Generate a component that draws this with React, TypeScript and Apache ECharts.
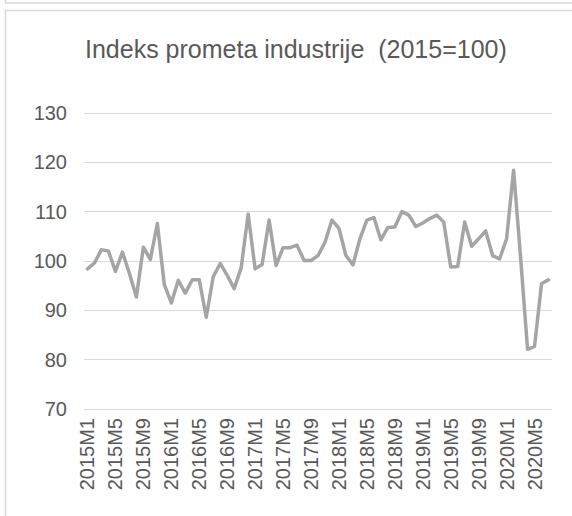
import React, { useEffect, useRef } from "react";
import * as echarts from "echarts";

const titleText = "Indeks prometa industrije  (2015=100)";

const years = [2015, 2016, 2017, 2018, 2019, 2020];
const lastMonth2020 = 7;

const categories: string[] = [];
years.forEach((y) => {
  const last = y === 2020 ? lastMonth2020 : 12;
  for (let m = 1; m <= last; m++) categories.push(`${y}M${m}`);
});

const values = [
  // 2015
  98.4, 99.6, 102.3, 102.0, 97.9, 101.8, 97.5, 92.7, 102.8, 100.3, 107.6, 95.2,
  // 2016
  91.5, 96.1, 93.5, 96.2, 96.2, 88.6, 96.8, 99.5, 97.1, 94.4, 98.6, 109.5,
  // 2017
  98.4, 99.3, 108.3, 99.1, 102.7, 102.7, 103.2, 100.1, 100.1, 101.1, 103.8, 108.3,
  // 2018
  106.6, 101.1, 99.2, 104.5, 108.3, 108.8, 104.3, 106.8, 106.9, 110.0, 109.3, 107.0,
  // 2019
  107.7, 108.6, 109.3, 107.9, 98.8, 98.9, 107.9, 103.0, 104.5, 106.1, 101.1, 100.4,
  // 2020
  104.5, 118.4, 100.8, 82.1, 82.7, 95.4, 96.2,
];

const yMin = 70;
const yMax = 130;
const yStep = 10;

export default function App() {
  const ref = useRef<HTMLDivElement>(null);
  useEffect(() => {
    if (!ref.current) return;
    const chart = echarts.init(ref.current, null, { renderer: "svg" });
    chart.setOption({
      animation: false,
      backgroundColor: "#ffffff",
      title: {
        text: titleText,
        left: 80,
        top: 31,
        textStyle: {
          fontFamily: "Liberation Sans, Arial, sans-serif",
          fontSize: 25,
          fontWeight: "normal",
          color: "#595959",
        },
      },
      graphic: [
        {
          type: "rect",
          shape: { x: 5.5, y: -20, width: 600, height: 23 },
          style: { fill: "none", stroke: "#d9d9d9", lineWidth: 1.5 },
          silent: true,
        },
        {
          type: "rect",
          shape: { x: 5.5, y: 10.5, width: 600, height: 540 },
          style: { fill: "none", stroke: "#d9d9d9", lineWidth: 1.5 },
          silent: true,
        },
      ],
      grid: { left: 84, right: 20, top: 113, bottom: 107, containLabel: false },
      xAxis: {
        type: "category",
        data: categories,
        boundaryGap: true,
        axisLine: { show: true, lineStyle: { color: "#d9d9d9", width: 1 } },
        axisTick: { show: false },
        axisLabel: {
          interval: 3,
          rotate: 90,
          margin: 9,
          fontFamily: "Liberation Sans, Arial, sans-serif",
          fontSize: 20,
          color: "#595959",
        },
      },
      yAxis: {
        type: "value",
        min: yMin,
        max: yMax,
        interval: yStep,
        axisLine: { show: false },
        axisTick: { show: false },
        axisLabel: {
          margin: 17,
          fontFamily: "Liberation Sans, Arial, sans-serif",
          fontSize: 20,
          color: "#595959",
        },
        splitLine: { lineStyle: { color: "#d9d9d9", width: 1 } },
      },
      series: [
        {
          type: "line",
          data: values,
          showSymbol: false,
          symbol: "none",
          lineStyle: { color: "#a5a5a5", width: 3.5, join: "round", cap: "round" },
        },
      ],
    });
    return () => chart.dispose();
  }, []);
  return (
    <div
      ref={ref}
      style={{ position: "absolute", left: 0, top: 0, width: 572, height: 516 }}
    />
  );
}
